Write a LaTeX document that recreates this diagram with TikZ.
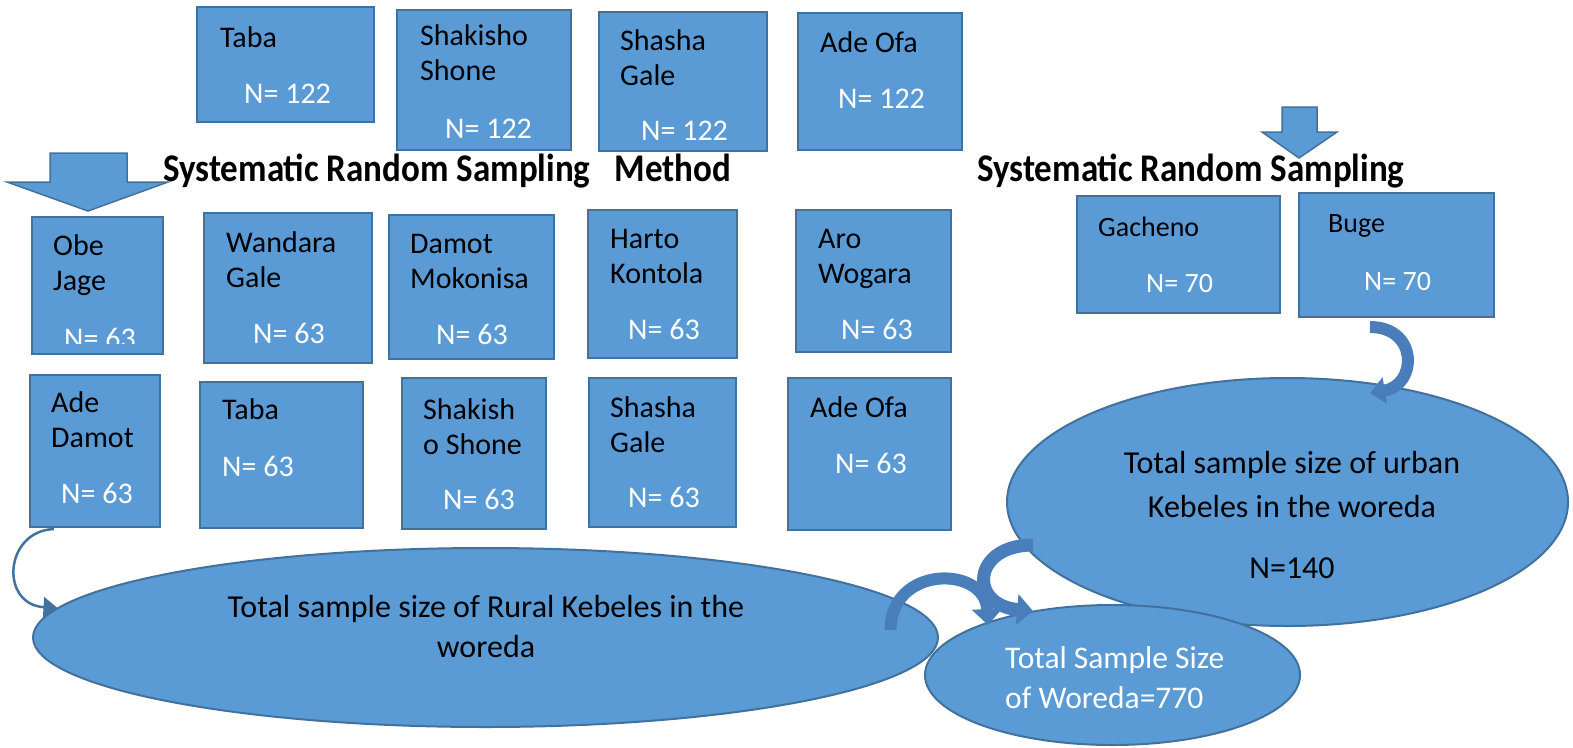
\documentclass[tikz,border=0pt]{standalone}
\usepackage{fontspec}
\setmainfont{Carlito}
\usetikzlibrary{arrows.meta,shapes.geometric,fit,calc}
\definecolor{boxfill}{HTML}{5B9BD5}
\definecolor{boxline}{HTML}{41719C}
\definecolor{arrowfill}{HTML}{4A7EBB}
\begin{document}
\begin{tikzpicture}[x=1pt,y=-1pt,
 bx/.style={draw=boxline, fill=boxfill, line width=2pt, inner sep=0pt, rectangle},
 bt/.style={anchor=north west, inner sep=0pt, align=left, font=\fontsize{30}{35}\selectfont, yshift=24.5pt},
 nt/.style={bt, text=white},
 rt/.style={anchor=north west, inner sep=0pt, align=left, font=\fontsize{28}{33}\selectfont, yshift=23.1pt},
 rnt/.style={rt, text=white},
 ell/.style={ellipse, draw=boxline, fill=boxfill, line width=2pt, inner sep=0pt},
 ttl/.style={anchor=base west, inner sep=0pt, font=\fontsize{35}{40}\selectfont\bfseries},
 blockarrow/.style={draw=arrowfill, line width=12pt, -{Triangle[length=16pt,width=30pt]}},
 thinarrow/.style={draw=boxline, line width=2.5pt, -{Triangle[length=14pt,width=20pt]}},
 bigarrow/.style={draw=boxline, fill=boxfill, line width=1.5pt, line join=miter}
]
\useasboundingbox (0,0) rectangle (1573,747);

% ---- top row
\node[bx, fit={(197,7) (374,122)}] (taba1) {};
\node[bt] (taba1t) at (220,47) {\strut Taba};
\node[nt] (taba1n) at (244,103) {\strut N= 122};
\node[bx, fit={(397,10) (571,150)}] (shak1) {};
\node[bt] (shak1t) at (420,45) {\strut Shakisho\\\strut Shone};
\node[nt] (shak1n) at (445,138) {\strut N= 122};
\node[bx, fit={(599,12) (767,151)}] (shas1) {};
\node[bt] (shas1t) at (620,50) {\strut Shasha\\\strut Gale};
\node[nt] (shas1n) at (641,140) {\strut N= 122};
\node[bx, fit={(798,13) (962,150)}] (adeofa1) {};
\node[bt] (adeofa1t) at (820,52) {\strut Ade Ofa};
\node[nt] (adeofa1n) at (838,108) {\strut N= 122};

% ---- big arrows
\draw[bigarrow] (50,153) -- (127,153) -- (127,182) -- (168,182) -- (88,211) -- (7,182) -- (50,182) -- cycle;
\draw[bigarrow] (1282,107) -- (1317,107) -- (1317,132) -- (1337,132) -- (1299,158) -- (1262,132) -- (1282,132) -- cycle;

\node[ttl] (title1) at (163,181) {\scalebox{1}[1.12]{Systematic Random Sampling\hspace{24pt}Method}};
\node[ttl] (title2) at (977,181) {\scalebox{1}[1.12]{Systematic Random Sampling}};

% ---- second row
\node[bx, fit={(32,217) (163,354)}] (obe) {};
\node[bt] (obet) at (53,255) {\strut Obe\\\strut Jage};
\begin{scope}
\clip (32,217) rectangle (163,343);
\node[nt] (oben) at (64,348) {\strut N= 63};
\end{scope}
\node[bx, fit={(204,213) (372,363)}] (wand) {};
\node[bt] (wandt) at (226,252) {\strut Wandara\\\strut Gale};
\node[nt] (wandn) at (253,343) {\strut N= 63};
\node[bx, fit={(389,215) (554,359)}] (damot) {};
\node[bt] (damott) at (410,253) {\strut Damot\\\strut Mokonisa};
\node[nt] (damotn) at (436,344) {\strut N= 63};
\node[bx, fit={(588,210) (737,358)}] (harto) {};
\node[bt] (hartot) at (610,248) {\strut Harto\\\strut Kontola};
\node[nt] (harton) at (628,339) {\strut N= 63};
\node[bx, fit={(796,210) (951,352)}] (aro) {};
\node[bt] (arot) at (818,248) {\strut Aro\\\strut Wogara};
\node[nt] (aron) at (841,339) {\strut N= 63};

% ---- urban kebeles
\node[bx, fit={(1077,196) (1280,313)}] (gach) {};
\node[rt] (gacht) at (1098,236) {\strut Gacheno};
\node[rnt] (gachn) at (1146,292) {\strut N= 70};
\node[bx, fit={(1299,193) (1494,317)}] (buge) {};
\node[rt] (buget) at (1328,232) {\strut Buge};
\node[rnt] (bugen) at (1364,290) {\strut N= 70};

% ---- third row
\node[bx, fit={(30,375) (160,527)}] (ademot) {};
\node[bt] (ademott) at (51,412) {\strut Ade\\\strut Damot};
\node[nt] (ademotn) at (61,503) {\strut N= 63};
\node[bx, fit={(200,382) (363,528)}] (taba2) {};
\node[bt] (taba2t) at (222,419) {\strut Taba};
\node[nt] (taba2n) at (222,476) {\strut N= 63};
\node[bx, fit={(402,378) (546,529)}] (shak2) {};
\node[bt] (shak2t) at (423,419) {\strut Shakish\\\strut o Shone};
\node[nt] (shak2n) at (443,509) {\strut N= 63};
\node[bx, fit={(589,378) (736,527)}] (shas2) {};
\node[bt] (shas2t) at (610,417) {\strut Shasha\\\strut Gale};
\node[nt] (shas2n) at (628,507) {\strut N= 63};
\node[bx, fit={(788,378) (951,530)}] (adeofa2) {};
\node[bt] (adeofa2t) at (810,417) {\strut Ade Ofa};
\node[nt] (adeofa2n) at (835,473) {\strut N= 63};

% ---- ellipses
\node[ell, minimum width=905pt, minimum height=179pt] (rural) at (485.5,637.5) {};
\node[anchor=north, inner sep=0pt, align=center, font=\fontsize{32}{40}\selectfont, yshift=28pt] (ruralt) at (486,617)
  {\strut Total sample size of Rural Kebeles in the\\\strut woreda};
\node[ell, minimum width=561pt, minimum height=248pt] (urban) at (1287.5,502) {};
\node[anchor=north, inner sep=0pt, align=center, font=\fontsize{32}{44}\selectfont, yshift=30.8pt] (urbant) at (1292,473)
  {\strut Total sample size of urban\\\strut Kebeles in the woreda\\[17pt]\strut N=140};
\node[ell, minimum width=375pt, minimum height=140pt] (total) at (1112.5,675) {};
\node[anchor=north west, inner sep=0pt, align=left, text=white, font=\fontsize{31.5}{40}\selectfont, yshift=28pt] (totalt) at (1005,668)
  {\strut Total Sample Size\\\strut of Woreda=770};

% ---- connectors
\draw[thinarrow] ($(ademot.south west)+(25,1)$) .. controls ($(ademot.south west)+(-25,3)$) and ($(rural.center)+(-486,-33)$) .. ($(rural.center)+(-428,-29.5)$);
\draw[blockarrow] ($(rural.center)+(405,-7.5)$) .. controls ($(rural.center)+(405,-72.5)$) and ($(total.center)+(-127.5,-110)$) .. ($(total.center)+(-124.5,-50)$);
\draw[blockarrow, line width=13pt] ($(urban.center)+(-254.5,43)$) .. controls ($(urban.center)+(-315.5,43)$) and ($(total.center)+(-144.5,-70)$) .. ($(total.center)+(-79.5,-64)$);
\draw[blockarrow, -{Triangle[length=15pt,width=26pt]}] ($(buge.south)+(-26.5,9)$) .. controls ($(buge.south)+(21.5,9)$) and ($(urban.center)+(130.5,-117)$) .. ($(urban.center)+(82.5,-109)$);
\end{tikzpicture}
\end{document}
